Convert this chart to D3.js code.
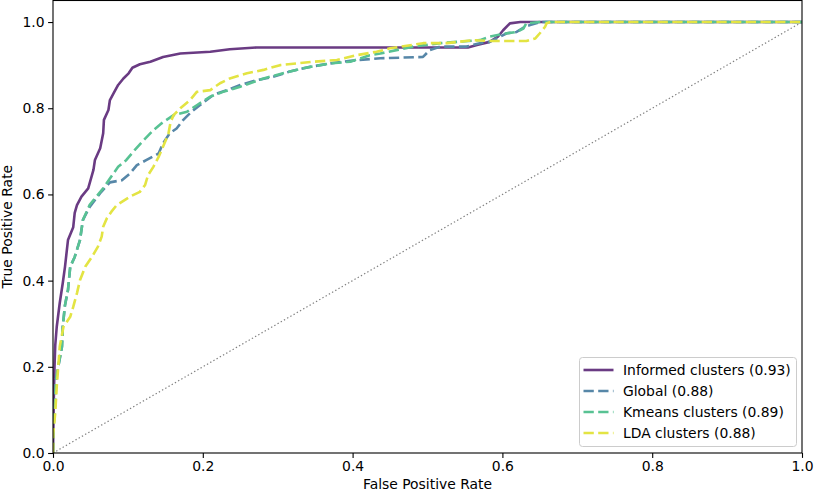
<!DOCTYPE html>
<html><head><meta charset="utf-8">
<script src="https://cdn.jsdelivr.net/npm/d3@7"></script>
<style>
body{margin:0;background:#fff;}
text{font-family:"DejaVu Sans",sans-serif;fill:#000;}
</style></head>
<body><svg id="c" width="814" height="494"></svg>
<script>
const xTicks = [0, 0.2, 0.4, 0.6, 0.8, 1.0];
const yTicks = [0, 0.2, 0.4, 0.6, 0.8, 1.0];
const seriesNames = ["Informed clusters (0.93)", "Global (0.88)", "Kmeans clusters (0.89)", "LDA clusters (0.88)"];

const informed = [[0,0],[0.001,0.12],[0.002,0.2],[0.003,0.25],[0.005,0.293],[0.009,0.348],[0.013,0.394],[0.016,0.432],[0.020,0.494],[0.027,0.524],[0.029,0.557],[0.032,0.575],[0.038,0.595],[0.047,0.614],[0.054,0.657],[0.056,0.680],[0.063,0.707],[0.067,0.742],[0.068,0.773],[0.074,0.796],[0.076,0.819],[0.081,0.835],[0.087,0.854],[0.094,0.869],[0.101,0.881],[0.106,0.894],[0.116,0.902],[0.130,0.908],[0.147,0.919],[0.170,0.927],[0.210,0.931],[0.236,0.937],[0.272,0.941],[0.554,0.941],[0.566,0.947],[0.583,0.954],[0.594,0.966],[0.601,0.981],[0.610,0.997],[0.624,1.0],[1,1]];

const globalS = [[0,0],[0.0004,0.053],[0.003,0.123],[0.004,0.17],[0.007,0.200],[0.012,0.247],[0.013,0.293],[0.016,0.343],[0.020,0.378],[0.023,0.432],[0.029,0.455],[0.036,0.494],[0.040,0.541],[0.049,0.571],[0.063,0.603],[0.076,0.628],[0.092,0.633],[0.103,0.649],[0.112,0.668],[0.125,0.680],[0.141,0.695],[0.147,0.719],[0.156,0.742],[0.165,0.753],[0.174,0.773],[0.185,0.792],[0.196,0.807],[0.214,0.831],[0.232,0.842],[0.250,0.854],[0.272,0.865],[0.294,0.873],[0.316,0.885],[0.343,0.896],[0.370,0.904],[0.397,0.910],[0.437,0.916],[0.494,0.919],[0.503,0.935],[0.517,0.943],[0.552,0.943],[0.570,0.951],[0.583,0.954],[0.606,0.974],[0.619,0.977],[0.630,0.989],[0.637,0.993],[0.650,1.0],[1,1]];

const kmeans = [[0,0],[0.0004,0.053],[0.003,0.123],[0.004,0.17],[0.007,0.200],[0.012,0.247],[0.013,0.293],[0.016,0.343],[0.020,0.378],[0.023,0.432],[0.029,0.455],[0.036,0.494],[0.040,0.541],[0.049,0.576],[0.067,0.614],[0.076,0.637],[0.087,0.664],[0.098,0.680],[0.109,0.703],[0.121,0.726],[0.134,0.749],[0.145,0.765],[0.161,0.784],[0.179,0.792],[0.192,0.807],[0.210,0.827],[0.227,0.838],[0.250,0.850],[0.281,0.869],[0.307,0.881],[0.334,0.893],[0.370,0.904],[0.397,0.908],[0.423,0.923],[0.437,0.927],[0.481,0.943],[0.517,0.951],[0.570,0.958],[0.583,0.966],[0.606,0.974],[0.619,0.977],[0.628,0.985],[0.632,0.997],[0.650,1.0],[1,1]];

const lda = [[0,0],[0.0004,0.046],[0.003,0.093],[0.005,0.154],[0.007,0.200],[0.009,0.247],[0.014,0.293],[0.023,0.316],[0.027,0.339],[0.032,0.371],[0.036,0.401],[0.043,0.432],[0.052,0.455],[0.060,0.479],[0.065,0.502],[0.067,0.525],[0.072,0.545],[0.078,0.560],[0.085,0.575],[0.103,0.595],[0.116,0.606],[0.123,0.622],[0.127,0.645],[0.134,0.664],[0.141,0.687],[0.147,0.711],[0.154,0.740],[0.157,0.768],[0.161,0.784],[0.170,0.800],[0.183,0.819],[0.192,0.838],[0.210,0.842],[0.223,0.858],[0.236,0.869],[0.259,0.881],[0.281,0.889],[0.303,0.900],[0.325,0.904],[0.348,0.908],[0.379,0.912],[0.405,0.923],[0.432,0.931],[0.450,0.939],[0.494,0.951],[0.526,0.951],[0.561,0.958],[0.583,0.956],[0.632,0.956],[0.644,0.962],[0.650,0.974],[0.657,0.989],[0.659,0.997],[0.664,1.0],[1,1]];

const seriesData = [informed, globalS, kmeans, lda];
const colors = ["#6a3b83", "#5787a8", "#58c293", "#e3e443"];
const dashes = [null, "10.3,4.4", "10.3,4.4", "10.3,4.4"];

const svg = d3.select("#c");
const L = 53, R = 802, T = 0.5, B = 453;
const x = d3.scaleLinear().domain([0, 1]).range([L, R]);
const y = d3.scaleLinear().domain([0, 1.05]).range([B, T]);

const clipId = "clipP";
svg.append("defs").append("clipPath").attr("id", clipId)
  .append("rect").attr("x", L).attr("y", T).attr("width", R - L).attr("height", B - T);

const g = svg.append("g").attr("clip-path", `url(#${clipId})`);
const line = d3.line().x(d => x(d[0])).y(d => y(d[1]));

// diagonal
g.append("path").datum([[0,0],[1,1]]).attr("d", line)
  .attr("fill", "none").attr("stroke", "#808080").attr("stroke-width", 1.2)
  .attr("stroke-dasharray", "1.4,2.3");

seriesData.forEach((s, i) => {
  g.append("path").datum(s).attr("d", line)
    .attr("fill", "none").attr("stroke", colors[i]).attr("stroke-width", 2.6)
    .attr("stroke-linejoin", "round")
    .attr("stroke-dasharray", dashes[i]);
});

// axes
const xa = svg.append("g").attr("transform", `translate(0,${B})`)
  .call(d3.axisBottom(x).tickValues(xTicks).tickFormat(d3.format(".1f")).tickSize(4.9).tickPadding(3.5));
const ya = svg.append("g").attr("transform", `translate(${L},0)`)
  .call(d3.axisLeft(y).tickValues(yTicks).tickFormat(d3.format(".1f")).tickSize(4.9).tickPadding(3.5));
[xa, ya].forEach(a => {
  a.select(".domain").remove();
  a.selectAll("line").attr("stroke", "#000").attr("stroke-width", 1.1);
  a.selectAll("text").style("font-family", "DejaVu Sans").style("font-size", "13.9px").attr("fill", "#000");
});

svg.append("rect").attr("x", L).attr("y", T).attr("width", R - L).attr("height", B - T)
  .attr("fill", "none").attr("stroke", "#000").attr("stroke-width", 1.1);

svg.append("text").attr("x", (L + R) / 2).attr("y", 489).attr("text-anchor", "middle")
  .style("font-size", "13.9px").text("False Positive Rate");
svg.append("text").attr("transform", `translate(12,${(T + B) / 2}) rotate(-90)`)
  .attr("text-anchor", "middle").style("font-size", "13.9px").text("True Positive Rate");

// legend
const lg = svg.append("g");
lg.append("rect").attr("x", 579.5).attr("y", 357.5).attr("width", 217).attr("height", 89)
  .attr("rx", 3).attr("fill", "#fff").attr("fill-opacity", 0.8).attr("stroke", "#cccccc").attr("stroke-width", 1);
seriesNames.forEach((n, i) => {
  const yy = 370 + i * 21;
  lg.append("line").attr("x1", 583.5).attr("x2", 613.5).attr("y1", yy).attr("y2", yy)
    .attr("stroke", colors[i]).attr("stroke-width", 2.6).attr("stroke-dasharray", dashes[i]);
  lg.append("text").attr("x", 623).attr("y", yy).attr("dy", "0.36em")
    .style("font-size", "13.9px").text(n);
});
</script></body></html>
